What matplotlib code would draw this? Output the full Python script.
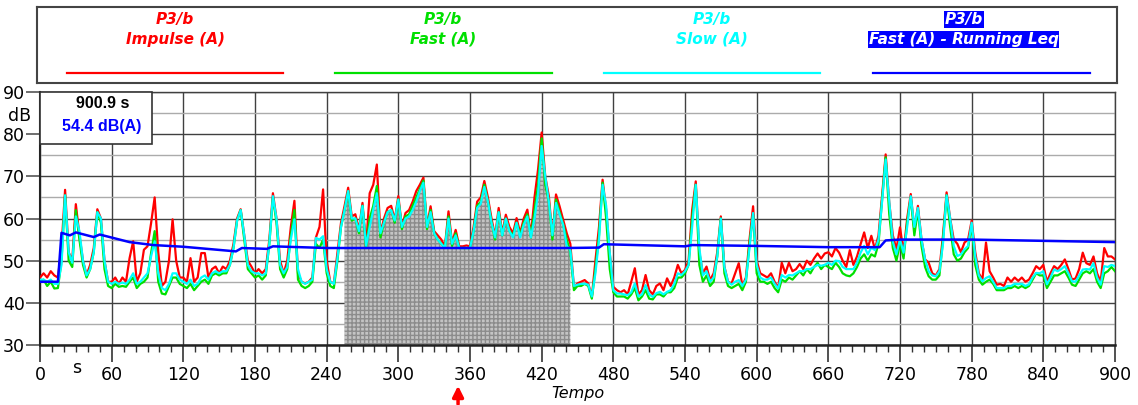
import numpy as np
import matplotlib
matplotlib.use('Agg')
import matplotlib.pyplot as plt
from matplotlib.patches import Rectangle
from matplotlib.ticker import MultipleLocator

# time axis (s), one value every 3 s
t = np.arange(0, 901, 3)

impulse = [
    46, 47, 46, 47.5, 46.5, 46, 53, 66.8, 52, 50, 63.4, 56, 50, 46.6, 49, 53, 62.2, 60, 50, 45,
    45, 46, 44.5, 46, 45, 50.6, 54.6, 45, 47, 52.6, 53.4, 58.9, 65, 52, 44, 45, 50, 59.8, 50, 46,
    46, 45, 50.6, 45, 46, 51.8, 51.8, 46, 48, 48.6, 47, 48.6, 48, 50, 54, 60, 62.2, 56, 50, 48.6,
    47, 48, 47, 48, 55, 66, 60, 50, 47, 50, 58, 64.2, 47, 45, 44.6, 45, 46, 55.5, 58, 66.9,
    50, 45, 44.6, 51.8, 59, 63, 67.3, 60.5, 61, 57.3, 63.7, 53.4, 66, 68, 72.8, 56.5, 60, 62.5, 63, 59.7,
    65.3, 58.1, 61.3, 62, 64, 66.5, 68, 69.7, 58.1, 62.9, 57, 56, 55, 53.4, 61.7, 54.2, 57.3, 53.4, 53.4, 53.6,
    53.4, 58, 64, 65, 68.9, 65, 60, 55.8, 62.5, 56.5, 60.9, 58, 56.5, 60.1, 56.5, 60, 62.1, 56, 65, 71.7,
    80.4, 70, 65.3, 55.8, 65.7, 62.9, 59.7, 56.5, 54, 43.8, 44.6, 45, 45.4, 44.6, 41.4, 50, 58, 69.2, 62, 51.7,
    43.8, 43, 42.5, 43, 42, 45, 48.2, 42, 43, 46.6, 43, 42, 44, 44.6, 43, 45.8, 44, 46, 49, 47,
    47.8, 50, 62, 68.8, 52, 47, 48.6, 45.4, 47, 52, 60.5, 48.6, 45, 44.6, 47, 49.4, 44, 46, 55, 62.9,
    50, 47, 46.5, 46, 47, 45, 43.5, 49.5, 47, 49.5, 47.5, 48, 49.2, 48, 50, 49, 50.5, 51.7, 50.5, 51.7,
    52, 51, 53, 51.9, 50, 48.5, 52.5, 49, 51, 53.9, 56.7, 53, 55.9, 52.7, 56, 65.4, 75.2, 63.8, 56, 52.7,
    57.9, 52, 60, 65.8, 57.5, 63, 55, 50.3, 49.5, 47, 46.5, 48, 56, 66.2, 60, 55, 54, 52, 54.3, 55,
    59.5, 52, 47, 45.5, 54.3, 47.5, 46, 44.3, 44.5, 44, 46, 45, 46, 45.2, 46, 45, 45.5, 47, 48.7, 48,
    49, 45, 47, 48.7, 48, 49, 50.3, 48, 45.5, 45.8, 48, 51.9, 49.4, 49, 51, 47, 45, 53, 51, 51, 50.3,
]

fast = [
    45, 45.5, 44, 45, 43.4, 43.5, 50, 65.5, 50, 48.5, 62, 55, 49, 46, 48, 52, 61.5, 59, 48, 44,
    43.5, 44.5, 43.8, 44, 43.8, 45, 46, 43.5, 44.5, 45, 46, 51.8, 57, 45, 42.2, 42, 44, 46, 46, 44.5,
    44, 43.5, 44.5, 43, 44, 45, 45.5, 44.5, 46.5, 47, 46.5, 47, 47, 49, 53, 59.5, 62, 55, 48, 47,
    46, 46.5, 45.5, 46.5, 54, 65, 59, 48, 46, 48, 56, 62, 45.5, 44, 43.5, 44, 45, 54, 53, 55,
    47, 44, 43.5, 50, 58, 62, 66.5, 59.5, 60, 56.5, 63, 53, 60, 63, 67.7, 55.5, 59, 61.5, 62, 59,
    64.5, 57.5, 60.5, 61, 63, 65, 67, 69, 57.5, 62, 56.5, 55, 54, 53, 60.5, 53.5, 56.5, 53, 53, 53,
    53, 57, 63, 64, 68, 64, 59, 55, 61.5, 56, 60, 57, 56, 59, 56, 59, 61, 55.5, 62, 68,
    79, 68, 64, 55, 64.5, 61.5, 58.5, 55, 52, 43, 44, 44, 44.5, 44, 41, 48, 56, 68.5, 60, 48,
    42.5, 41.5, 41.5, 41.5, 41, 42, 43.5, 40.6, 41.5, 43, 41, 40.8, 42, 42, 41.5, 42.5, 42.5, 43.5, 46, 46,
    47, 49, 60, 68, 49, 45, 46.5, 44, 45, 51, 60, 47, 44, 43.5, 44, 44.5, 43, 45, 54, 61,
    47, 45, 45, 44.5, 45, 43.5, 42.5, 45.5, 45, 46, 45.5, 46.5, 47.5, 46.5, 48, 47, 48.5, 49.5, 48, 49,
    48.5, 48, 49.5, 48.5, 47, 46.5, 46.3, 47, 48.5, 50.5, 51.5, 50, 51.5, 51, 54, 64.5, 74.5, 61, 53, 50,
    54, 50.5, 59, 65, 56, 62, 53.5, 48.5, 46.3, 45.5, 45.5, 46.5, 55, 65.5, 58, 51.5, 50, 50.5, 52, 53,
    58.5, 49, 45.5, 44.3, 45, 45.5, 44.5, 43, 43, 43, 43.5, 43.5, 44, 43.5, 44, 43.5, 44, 45.5, 47, 46.5,
    46.5, 43.5, 45, 46.5, 46.5, 47, 47.5, 46, 44.3, 44, 45.5, 47, 47.5, 47, 48, 45, 43.5, 47, 47.5, 48.5, 47.5,
]

slow = [
    45.5, 45.5, 45, 45.5, 44.5, 44.5, 49, 65.5, 52, 49.5, 60.5, 57, 50, 46.5, 48, 52, 61.5, 60, 50, 45,
    44.5, 45, 44.5, 44.8, 44.5, 45.5, 47, 44.5, 45, 46, 47, 51, 54.6, 47, 43.5, 43, 44.5, 47, 47, 45.5,
    45, 44.5, 45.5, 44, 44.5, 46, 46.5, 45.5, 47, 47.5, 47, 47.5, 47.5, 49, 53, 59.5, 62, 56, 49, 47.5,
    47, 47, 46.5, 47, 54, 65.3, 60, 49, 47, 48.5, 55, 59.8, 48, 45, 44.5, 45, 45.5, 55.4, 55, 55.8,
    48, 45, 44.5, 50.5, 58, 62, 66.5, 60, 60, 57, 63, 53.5, 58, 62, 66, 56.5, 59, 61.5, 62, 59.5,
    64.5, 58, 60, 60.5, 62, 64, 66.5, 68.5, 58, 61.5, 56.5, 55, 54, 53, 60, 54, 56, 53, 53, 53,
    53, 57, 62.5, 63.5, 67.5, 64, 59, 55.5, 61.5, 56, 60, 57, 55.5, 59, 55.5, 58.5, 60.5, 55.5, 60, 66,
    77.2, 70, 64, 56, 63.7, 61, 58.5, 53.5, 52.5, 44, 44.3, 44.5, 44.5, 44.3, 41.5, 47, 55, 68, 63, 52,
    43, 42.2, 42.2, 42, 41.8, 42.5, 44.6, 41.5, 42, 44.2, 42, 41.4, 42.3, 42.6, 42, 42.6, 43, 44.5, 47, 46.6,
    47.5, 49, 58, 68, 53, 46.5, 47.5, 45, 46, 51, 60, 48.5, 45, 44.3, 45, 45.4, 44, 45.5, 53, 61.3,
    49, 46, 45.5, 45.5, 46, 44.5, 43.4, 46.6, 46, 46.6, 46.5, 47, 47.5, 47.5, 48, 48, 48.5, 49, 48.8, 49,
    49.5, 49, 50, 49.9, 48.5, 48, 48, 48, 49.5, 51.9, 53.5, 51.5, 53.1, 52.5, 55, 64, 74, 64, 54.5, 51.5,
    55, 51.9, 58, 65.3, 58, 62.5, 55, 50.3, 47.5, 46.5, 46.3, 47.5, 54, 65.5, 60, 53.5, 51.1, 51.5, 52.7, 53.5,
    59, 51, 46.5, 45.1, 45.9, 46.3, 45, 43.5, 43.5, 43.5, 44, 44, 44.5, 44.4, 44.5, 44, 44.4, 46, 47.1, 47,
    47.5, 44.4, 46, 47.9, 47.5, 48, 48.7, 47, 45.1, 45, 46.5, 47.9, 48, 47.9, 49.4, 46, 44.3, 48.7, 48.5, 49, 48.7,
]

# running Leq (keypoints)
leq_t = [0, 15, 18, 25, 30, 45, 50, 75, 95, 120, 164, 169, 190, 195, 240, 300, 360, 440,
         468, 472, 540, 546, 600, 660, 703, 708, 720, 780, 840, 900]
leq = [45, 45, 56.6, 56, 56.7, 55.6, 56.2, 54.4, 53.7, 53.3, 52.2, 53, 52.8, 53.4, 53, 53, 53, 53,
       53.1, 53.9, 53.4, 53.7, 53.5, 53.2, 53.2, 54.8, 55, 55, 54.7, 54.4]

legend_titles = ['P3/b', 'P3/b', 'P3/b', 'P3/b']
legend_names = ['Impulse (A)', 'Fast (A)', 'Slow (A)', 'Fast (A) - Running Leq']
colors = ['#ff0000', '#00e000', '#00ffff', '#0000ff']

cursor_time = '900.9 s'
cursor_level = '54.4 dB(A)'
selection = (255, 444)
marker_t = 350

t = np.asarray(t)
impulse = np.asarray(impulse)
fast = np.asarray(fast)
slow = np.asarray(slow)

plt.rcParams['font.family'] = 'DejaVu Sans'
plt.rcParams['hatch.linewidth'] = 1.0

fig = plt.figure(figsize=(11.38, 4.05), dpi=100)
ax = fig.add_axes([40 / 1138, 1 - 345 / 405, 1075 / 1138, 253 / 405])

# selected interval
sel = (t >= selection[0]) & (t <= selection[1])
ax.fill_between(t, 30, np.minimum(fast, slow), where=sel, facecolor='#c4c4c4',
                edgecolor='#8c8c8c', hatch='++++', linewidth=0, zorder=2)

ax.plot(t, impulse, color=colors[0], lw=1.6, zorder=3)
ax.plot(t, fast, color=colors[1], lw=1.6, zorder=4)
ax.plot(t, slow, color=colors[2], lw=1.6, zorder=5)
ax.plot(leq_t, leq, color=colors[3], lw=1.8, zorder=6)

ax.set_xlim(0, 900)
ax.set_ylim(30, 90)
ax.xaxis.set_major_locator(MultipleLocator(60))
ax.xaxis.set_minor_locator(MultipleLocator(10))
ax.yaxis.set_major_locator(MultipleLocator(10))
ax.yaxis.set_minor_locator(MultipleLocator(5))

ax.grid(which='major', color='#404040', lw=1.0, zorder=1)
ax.grid(which='minor', axis='y', color='#ababab', lw=1.0, zorder=1)
ax.set_axisbelow(True)
ax.tick_params(axis='x', which='major', length=12, width=1.2, color='#333333',
               labelsize=12.5, pad=3)
ax.tick_params(axis='x', which='minor', length=5, width=1, color='#333333')
ax.tick_params(axis='y', which='major', length=10, width=1.2, color='#555555',
               labelsize=12.5, pad=1)
ax.tick_params(axis='y', which='minor', length=0)
for side in ['top', 'right']:
    ax.spines[side].set_color('#404040')
    ax.spines[side].set_linewidth(1.0)
ax.spines['left'].set_color('#222222')
ax.spines['left'].set_linewidth(1.5)
ax.spines['bottom'].set_color('#222222')
ax.spines['bottom'].set_linewidth(1.8)

ax.text(-0.019, 0.905, 'dB', transform=ax.transAxes, ha='center', va='center', fontsize=12.5)
ax.text(0.034, -0.09, 's', transform=ax.transAxes, ha='center', va='center', fontsize=12.5)
ax.text(0.5, -0.19, 'Tempo', transform=ax.transAxes, ha='center', va='center',
        fontsize=11.5, style='italic')

# red marker arrow under the axis
ax.annotate('', xy=(marker_t, -0.15), xytext=(marker_t, -0.245),
            xycoords=ax.get_xaxis_transform(), textcoords=ax.get_xaxis_transform(),
            arrowprops=dict(arrowstyle='-|>', color='red', lw=2.5, mutation_scale=16))

# cursor readout box
ax.add_patch(Rectangle((0, 0.794), 0.104, 0.206, transform=ax.transAxes, facecolor='white',
                       edgecolor='#333333', lw=1.2, zorder=10, clip_on=False))
ax.text(0.058, 0.955, cursor_time, transform=ax.transAxes, ha='center', va='center',
        fontsize=11.5, fontweight='bold', family='Liberation Sans', color='black', zorder=11)
ax.text(0.057, 0.862, cursor_level, transform=ax.transAxes, ha='center', va='center',
        fontsize=11.5, fontweight='bold', family='Liberation Sans', color='#0000ff', zorder=11)

# legend panel
lax = fig.add_axes([37 / 1138, 1 - 83 / 405, 1080 / 1138, 76 / 405])
lax.set_xlim(0, 1)
lax.set_ylim(0, 1)
lax.set_xticks([])
lax.set_yticks([])
for sp in lax.spines.values():
    sp.set_color('#444444')
    sp.set_linewidth(1.5)

text_x = [0.128, 0.376, 0.625, 0.858]
line_x = [(0.028, 0.228), (0.276, 0.477), (0.525, 0.725), (0.774, 0.975)]
for i in range(4):
    if i < 3:
        kw = dict(color=colors[i])
    else:
        kw = dict(color='white', bbox=dict(facecolor=colors[i], edgecolor='none', pad=0.5))
    lax.text(text_x[i], 0.835, legend_titles[i], ha='center', va='center', fontsize=11,
             fontweight='bold', style='italic', **kw)
    lax.text(text_x[i], 0.575, legend_names[i], ha='center', va='center', fontsize=11,
             fontweight='bold', style='italic', **kw)
    lax.plot(line_x[i], [0.13, 0.13], color=colors[i], lw=1.6)

fig.savefig('out.png', dpi=100)
